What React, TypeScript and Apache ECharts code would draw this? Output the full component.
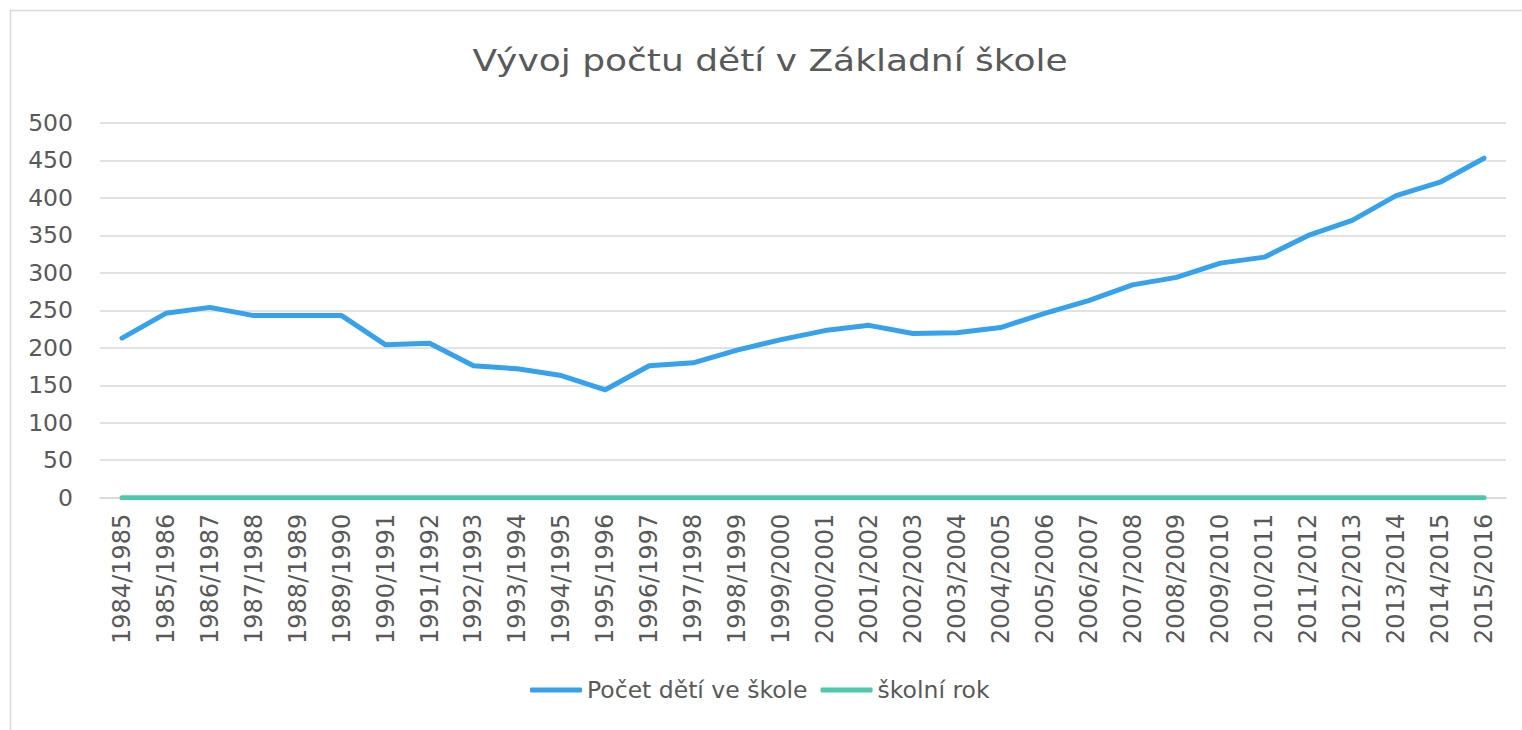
import React, { useEffect, useRef } from "react";
import * as echarts from "echarts";

const categories = [
  "1984/1985", "1985/1986", "1986/1987", "1987/1988", "1988/1989", "1989/1990",
  "1990/1991", "1991/1992", "1992/1993", "1993/1994", "1994/1995", "1995/1996",
  "1996/1997", "1997/1998", "1998/1999", "1999/2000", "2000/2001", "2001/2002",
  "2002/2003", "2003/2004", "2004/2005", "2005/2006", "2006/2007", "2007/2008",
  "2008/2009", "2009/2010", "2010/2011", "2011/2012", "2012/2013", "2013/2014",
  "2014/2015", "2015/2016",
];

const pocetDeti = [
  213, 246, 254, 243, 243, 243, 204, 206, 176, 172, 163, 144,
  176, 180, 197, 211, 223, 230, 219, 220, 227, 246, 263, 284,
  294, 313, 321, 350, 370, 403, 421, 453,
];

const skolniRok = categories.map(() => 0);

const titleText = "Vývoj počtu dětí v Základní škole";
const seriesNames = ["Počet dětí ve škole", "školní rok"];

const FONT = "'DejaVu Sans', sans-serif";
const TEXT = "#595959";
const BLUE = "#36a2eb";
const GREEN = "#4ec8aa";

export default function App() {
  const ref = useRef<HTMLDivElement>(null);
  useEffect(() => {
    if (!ref.current) return;
    const chart = echarts.init(ref.current, undefined, { renderer: "svg" });
    chart.setOption({
      animation: false,
      backgroundColor: "#ffffff",
      textStyle: { fontFamily: FONT },
      graphic: [
        {
          type: "rect",
          shape: { x: 10.5, y: 10.5, width: 1700, height: 900 },
          style: { fill: "none", stroke: "#d9d9d9", lineWidth: 1.5 },
          silent: true,
        },
        {
          type: "text",
          x: 770,
          y: 61,
          scaleX: 1.2,
          style: {
            text: titleText,
            fill: TEXT,
            font: `30px ${FONT}`,
            textAlign: "center",
            textVerticalAlign: "middle",
          },
        },
      ],
      legend: {
        left: 525,
        top: 673,
        itemWidth: 52,
        itemHeight: 5,
        itemGap: 13,
        textStyle: { color: TEXT, fontSize: 23.5, fontFamily: FONT, lineHeight: 24 },
        data: [
          { name: seriesNames[0], icon: "roundRect" },
          { name: seriesNames[1], icon: "roundRect" },
        ],
      },
      grid: { left: 100, right: 16, top: 123, bottom: 232.3 },
      xAxis: {
        type: "category",
        data: categories,
        boundaryGap: true,
        axisLine: { show: true, lineStyle: { color: "#d9d9d9", width: 1.5 } },
        axisTick: { show: false },
        axisLabel: {
          rotate: 90,
          interval: 0,
          margin: 16,
          color: TEXT,
          fontSize: 24,
          fontFamily: FONT,
        },
      },
      yAxis: {
        type: "value",
        min: 0,
        max: 500,
        interval: 50,
        axisLine: { show: false },
        axisTick: { show: false },
        axisLabel: { margin: 27, color: TEXT, fontSize: 23.5, fontFamily: FONT },
        splitLine: { lineStyle: { color: "#d9d9d9", width: 1.5 } },
      },
      series: [
        {
          name: seriesNames[0],
          type: "line",
          data: pocetDeti,
          symbol: "none",
          color: BLUE,
          lineStyle: { width: 5, color: BLUE, cap: "round", join: "round" },
        },
        {
          name: seriesNames[1],
          type: "line",
          data: skolniRok,
          symbol: "none",
          color: GREEN,
          lineStyle: { width: 5, color: GREEN, cap: "round", join: "round" },
        },
      ],
    });
    return () => chart.dispose();
  }, []);
  return (
    <div
      ref={ref}
      style={{ position: "fixed", left: 0, top: 0, width: 1522, height: 730 }}
    />
  );
}
